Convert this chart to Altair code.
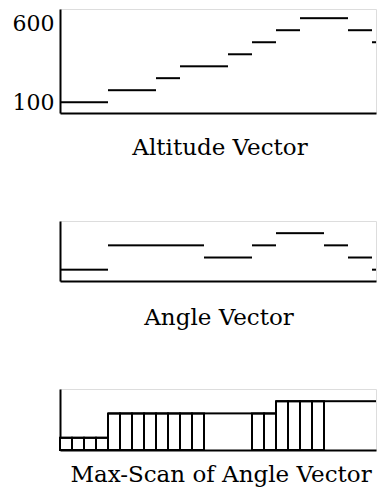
import altair as alt
import pandas as pd

FONT = "DejaVu Serif"

# unit index of each vector element (the last ones run off the right edge)
units = list(range(28))
altitude = [100, 100, 100, 100, 176, 176, 176, 176, 252, 252, 327, 327, 327, 327,
            403, 403, 479, 479, 555, 555, 631, 631, 631, 631, 555, 555, 479, 479]
angle = [1, 1, 1, 1, 3, 3, 3, 3, 3, 3, 3, 3, 2, 2, 2, 2, 3, 3, 4, 4, 4, 4,
         3, 3, 2, 2, 1, 1]
max_scan = [1, 1, 1, 1, 3, 3, 3, 3, 3, 3, 3, 3, 3, 3, 3, 3, 3, 3, 4, 4, 4, 4,
            4, 4, 4, 4, 4, 4]
visible = [1, 1, 1, 1, 1, 1, 1, 1, 1, 1, 1, 1, 0, 0, 0, 0, 1, 1, 1, 1, 1, 1,
           0, 0, 0, 0, 0, 0]
y_ticks = [100, 600]
titles = ["Altitude Vector", "Angle Vector", "Max-Scan of Angle Vector"]

df = pd.DataFrame({
    "i": units,
    "i2": [u + 1 for u in units],
    "alt": altitude,
    "ang": angle,
    "mx": max_scan,
    "vis": visible,
})

W = 316
X_DOMAIN = [0, W / 12]


def x_enc():
    return alt.X(
        "i:Q",
        scale=alt.Scale(domain=X_DOMAIN, nice=False, zero=False, clamp=True),
        axis=alt.Axis(title=None, labels=False, ticks=False, grid=False,
                      domainColor="black", domainWidth=2,
                      minExtent=0, maxExtent=0),
    )


def y_axis(show_labels):
    kw = dict(title=None, ticks=False, grid=False, domainColor="black",
              domainWidth=2, minExtent=51, maxExtent=51)
    if show_labels:
        kw.update(values=y_ticks, labelFont=FONT, labelFontSize=22,
                  labelColor="black", labelPadding=6)
    else:
        kw.update(labels=False)
    return alt.Axis(**kw)


def title(text, offset, dx):
    return alt.TitleParams(text, orient="bottom", anchor="middle", offset=offset,
                           dx=dx, font=FONT, fontSize=23, fontWeight="normal",
                           color="black")


base = alt.Chart(df)

p1 = base.mark_rule(color="black", strokeWidth=2).encode(
    x=x_enc(),
    x2="i2:Q",
    y=alt.Y("alt:Q", scale=alt.Scale(domain=[32, 689], nice=False, zero=False),
            axis=y_axis(True)),
).properties(width=W, height=104, title=title(titles[0], 24, 2))

p2 = base.mark_rule(color="black", strokeWidth=2).encode(
    x=x_enc(),
    x2="i2:Q",
    y=alt.Y("ang:Q", scale=alt.Scale(domain=[0.07, 5.0], nice=False, zero=False),
            axis=y_axis(False)),
).properties(width=W, height=60, title=title(titles[1], 26, 1))

y3 = alt.Scale(domain=[0, 5.0], nice=False, zero=False)
bars = base.transform_filter("datum.vis == 1").mark_rect(
    fill="white", stroke="black", strokeWidth=2
).encode(
    x=x_enc(),
    x2="i2:Q",
    y=alt.Y("mx:Q", scale=y3, axis=y_axis(False)),
    y2=alt.datum(0),
)
tops = base.mark_rule(color="black", strokeWidth=2).encode(
    x=x_enc(),
    x2="i2:Q",
    y=alt.Y("mx:Q", scale=y3, axis=y_axis(False)),
)
p3 = alt.layer(bars, tops).properties(width=W, height=61,
                                      title=title(titles[2], 13, 3))

chart = alt.vconcat(p1, p2, p3, spacing=108, bounds="flush").properties(
    padding=0
).configure_view(stroke=None).configure(font=FONT)

chart.save("out.html", embed_options={"renderer": "svg", "actions": False})
